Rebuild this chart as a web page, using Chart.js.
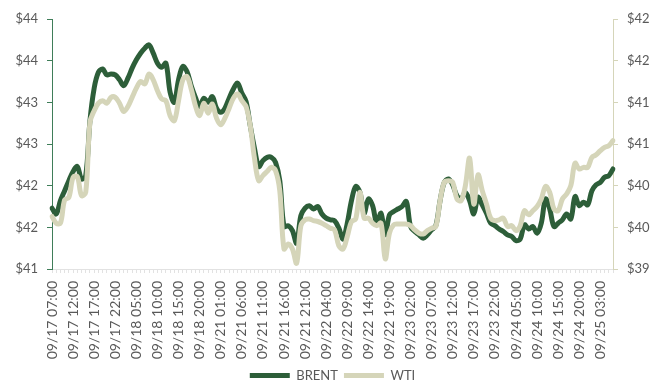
<!DOCTYPE html>
<html>
<head>
<meta charset="utf-8">
<script src="https://cdn.jsdelivr.net/npm/chart.js@4/dist/chart.umd.min.js"></script>
<style>
  html, body { margin: 0; background: #fff; }
  #wrap { width: 665px; height: 392px; }
</style>
</head>
<body>
<div id="wrap"><canvas id="grafico" width="665" height="392"></canvas></div>
<script>
// Brent vs WTI, cotización horaria 17/09 – 25/09 (dos ejes: Brent izq., WTI der.)

// ── Datos ────────────────────────────────────────────────────────────────────
const HORAS = [
  '09/17 07:00', '09/17 08:00', '09/17 09:00', '09/17 10:00', '09/17 11:00', '09/17 12:00',
  '09/17 13:00', '09/17 14:00', '09/17 15:00', '09/17 16:00', '09/17 17:00', '09/17 18:00',
  '09/17 19:00', '09/17 20:00', '09/17 21:00', '09/17 22:00',
  '09/18 01:00', '09/18 02:00', '09/18 03:00', '09/18 04:00', '09/18 05:00', '09/18 06:00',
  '09/18 07:00', '09/18 08:00', '09/18 09:00', '09/18 10:00', '09/18 11:00', '09/18 12:00',
  '09/18 13:00', '09/18 14:00', '09/18 15:00', '09/18 16:00', '09/18 17:00', '09/18 18:00',
  '09/18 19:00', '09/18 20:00', '09/18 21:00', '09/18 22:00',
  '09/20 21:00', '09/20 22:00',
  '09/21 01:00', '09/21 02:00', '09/21 03:00', '09/21 04:00', '09/21 05:00', '09/21 06:00',
  '09/21 07:00', '09/21 08:00', '09/21 09:00', '09/21 10:00', '09/21 11:00', '09/21 12:00',
  '09/21 13:00', '09/21 14:00', '09/21 15:00', '09/21 16:00', '09/21 17:00', '09/21 18:00',
  '09/21 19:00', '09/21 20:00', '09/21 21:00', '09/21 22:00',
  '09/22 01:00', '09/22 02:00', '09/22 03:00', '09/22 04:00', '09/22 05:00', '09/22 06:00',
  '09/22 07:00', '09/22 08:00', '09/22 09:00', '09/22 10:00', '09/22 11:00', '09/22 12:00',
  '09/22 13:00', '09/22 14:00', '09/22 15:00', '09/22 16:00', '09/22 17:00', '09/22 18:00',
  '09/22 19:00', '09/22 20:00', '09/22 21:00', '09/22 22:00',
  '09/23 01:00', '09/23 02:00', '09/23 03:00', '09/23 04:00', '09/23 05:00', '09/23 06:00',
  '09/23 07:00', '09/23 08:00', '09/23 09:00', '09/23 10:00', '09/23 11:00', '09/23 12:00',
  '09/23 13:00', '09/23 14:00', '09/23 15:00', '09/23 16:00', '09/23 17:00', '09/23 18:00',
  '09/23 19:00', '09/23 20:00', '09/23 21:00', '09/23 22:00',
  '09/24 01:00', '09/24 02:00', '09/24 03:00', '09/24 04:00', '09/24 05:00', '09/24 06:00',
  '09/24 07:00', '09/24 08:00', '09/24 09:00', '09/24 10:00', '09/24 11:00', '09/24 12:00',
  '09/24 13:00', '09/24 14:00', '09/24 15:00', '09/24 16:00', '09/24 17:00', '09/24 18:00',
  '09/24 19:00', '09/24 20:00', '09/24 21:00', '09/24 22:00',
  '09/25 01:00', '09/25 02:00', '09/25 03:00', '09/25 04:00', '09/25 05:00', '09/25 06:00',
];

const BRENT = [
  41.73, 41.66, 41.82, 41.94, 42.06, 42.17, 42.23, 42.08, 42.12, 42.78,
  43.17, 43.36, 43.40, 43.33, 43.34, 43.33, 43.27, 43.20, 43.29, 43.41,
  43.51, 43.59, 43.65, 43.69, 43.59, 43.47, 43.42, 43.47, 43.12, 43.00,
  43.27, 43.43, 43.37, 43.20, 43.06, 42.95, 43.05, 43.00, 43.07, 42.93,
  42.88, 42.93, 43.05, 43.16, 43.23, 43.11, 43.01, 42.72, 42.45, 42.23,
  42.30, 42.34, 42.34, 42.28, 42.06, 41.51, 41.52, 41.46, 41.31, 41.64,
  41.73, 41.76, 41.72, 41.75, 41.66, 41.61, 41.59, 41.58, 41.49, 41.36,
  41.55, 41.82, 41.99, 41.92, 41.67, 41.84, 41.76, 41.55, 41.67, 41.41,
  41.65, 41.69, 41.72, 41.75, 41.81, 41.51, 41.45, 41.41, 41.37, 41.41,
  41.47, 41.52, 41.82, 42.04, 42.08, 42.01, 41.88, 41.84, 41.92, 41.82,
  41.66, 41.86, 41.77, 41.67, 41.55, 41.52, 41.48, 41.45, 41.41, 41.39,
  41.34, 41.36, 41.53, 41.48, 41.51, 41.43, 41.55, 41.84, 41.72, 41.51,
  41.55, 41.59, 41.66, 41.60, 41.87, 41.76, 41.80, 41.77, 41.94, 42.01,
  42.04, 42.10, 42.12, 42.20,
];

const WTI = [
  39.63, 39.55, 39.55, 39.83, 39.86, 40.10, 40.11, 39.88, 39.92, 40.76,
  40.90, 40.99, 41.02, 40.99, 41.06, 41.06, 40.99, 40.89, 40.95, 41.06,
  41.17, 41.25, 41.22, 41.34, 41.27, 41.14, 41.04, 41.02, 40.84, 40.78,
  41.02, 41.27, 41.31, 41.16, 40.96, 40.84, 40.99, 40.87, 40.98, 40.81,
  40.73, 40.81, 40.93, 41.05, 41.10, 41.02, 40.95, 40.72, 40.33, 40.06,
  40.12, 40.17, 40.22, 40.18, 39.94, 39.24, 39.30, 39.24, 39.07, 39.52,
  39.59, 39.60, 39.58, 39.57, 39.55, 39.52, 39.49, 39.47, 39.28, 39.24,
  39.39, 39.57, 39.60, 39.92, 39.61, 39.61, 39.55, 39.52, 39.55, 39.12,
  39.43, 39.53, 39.54, 39.54, 39.54, 39.52, 39.47, 39.43, 39.42, 39.46,
  39.49, 39.51, 39.82, 40.04, 40.06, 40.04, 39.84, 39.82, 40.00, 40.33,
  39.78, 40.13, 39.94, 39.78, 39.61, 39.58, 39.59, 39.61, 39.51, 39.52,
  39.46, 39.52, 39.70, 39.65, 39.70, 39.75, 39.84, 39.99, 39.92, 39.72,
  39.70, 39.84, 39.90, 40.00, 40.27, 40.20, 40.22, 40.22, 40.34, 40.37,
  40.42, 40.46, 40.48, 40.54,
];

// Rangos de los ejes (Excel redondea las etiquetas a dólares enteros)
const EJE_BRENT = [41, 44];
const EJE_WTI = [39, 42];
const PASO_EJE = 0.5;
const CADA_N_ETIQUETAS = 5;

// ── Estilo ───────────────────────────────────────────────────────────────────
const VERDE = '#2d5e39';
const VERDE_EJE = '#3f7d59';
const BEIGE = '#d5d5b9';
const GRIS_TXT = '#595959';
const GRIS_EJE = '#e2e2e2';

Chart.defaults.font.family = 'Lato, "Open Sans", sans-serif';
Chart.defaults.font.size = 13;
Chart.defaults.color = GRIS_TXT;

const dolares = v => '$' + Math.round(v);

new Chart(document.getElementById('grafico'), {
  type: 'line',
  data: {
    labels: HORAS,
    datasets: [
      { label: 'BRENT', data: BRENT, yAxisID: 'y', order: 1,
        borderColor: VERDE, backgroundColor: VERDE, borderWidth: 5, borderCapStyle: 'round',
        pointRadius: 0, tension: 0.35 },
      { label: 'WTI', data: WTI, yAxisID: 'y1', order: 0,
        borderColor: BEIGE, backgroundColor: BEIGE, borderWidth: 5, borderCapStyle: 'round',
        pointRadius: 0, tension: 0.35 },
    ],
  },
  options: {
    responsive: false,
    animation: false,
    layout: { padding: { top: 19, left: 0, right: 0, bottom: 0 } },
    plugins: {
      tooltip: { enabled: false },
      legend: {
        position: 'bottom',
        labels: {
          usePointStyle: true, pointStyle: 'line', pointStyleWidth: 40,
          padding: 6, color: GRIS_TXT, font: { size: 13 },
          sort: (a, b) => a.datasetIndex - b.datasetIndex,
        },
      },
    },
    scales: {
      x: {
        grid: { drawOnChartArea: false, color: GRIS_EJE, tickLength: 4 },
        border: { color: GRIS_EJE },
        ticks: {
          autoSkip: false, minRotation: 90, maxRotation: 90, padding: 8,
          font: { size: 14 },
          callback(v, i) { return i % CADA_N_ETIQUETAS === 0 ? this.getLabelForValue(v) : ''; },
        },
        afterFit(s) { s.height = 94; },
      },
      y: {
        position: 'left', min: EJE_BRENT[0], max: EJE_BRENT[1],
        grid: { drawOnChartArea: false, color: VERDE_EJE, tickLength: 5 },
        border: { color: VERDE_EJE },
        ticks: { stepSize: PASO_EJE, padding: 9, callback: dolares },
        afterFit(s) { s.width = 52; },
      },
      y1: {
        position: 'right', min: EJE_WTI[0], max: EJE_WTI[1],
        grid: { drawOnChartArea: false, color: BEIGE, tickLength: 5 },
        border: { color: BEIGE },
        ticks: { stepSize: PASO_EJE, padding: 9, callback: dolares },
        afterFit(s) { s.width = 52; },
      },
    },
  },
});
</script>
</body>
</html>
